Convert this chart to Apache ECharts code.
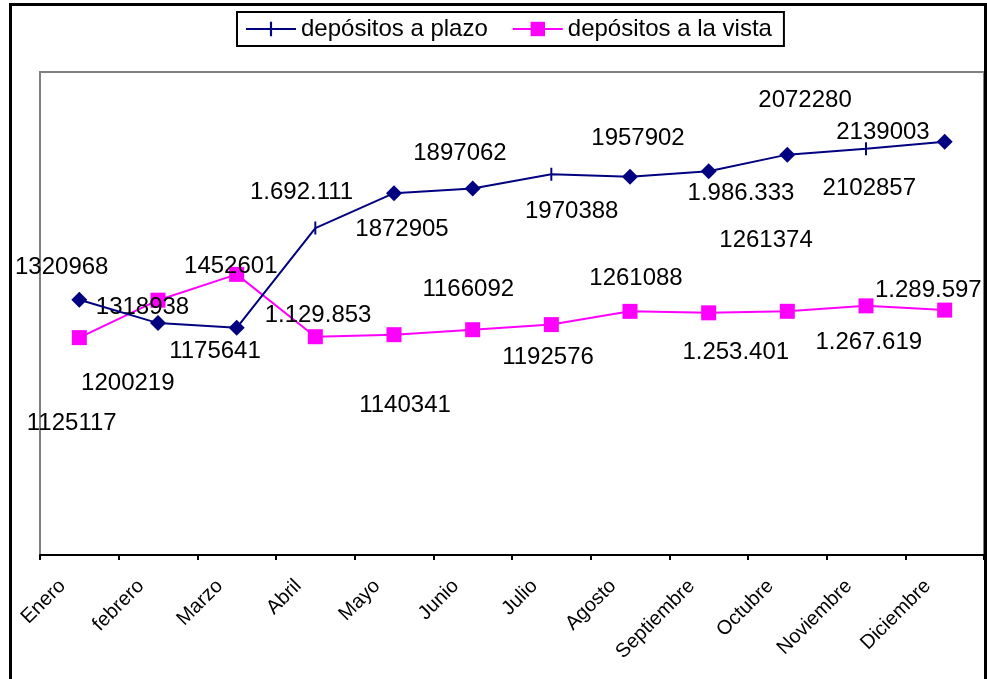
<!DOCTYPE html>
<html>
<head>
<meta charset="utf-8">
<script src="https://cdn.jsdelivr.net/npm/echarts@6/dist/echarts.min.js"></script>
<style>
  html, body { margin: 0; padding: 0; background: #fff; }
  #chart { width: 987px; height: 679px; }
</style>
</head>
<body>
<div id="chart"></div>
<script>
// ---- data ----
const months = ['Enero', 'febrero', 'Marzo', 'Abril', 'Mayo', 'Junio', 'Julio', 'Agosto', 'Septiembre', 'Octubre', 'Noviembre', 'Diciembre'];
const plazo = [1320968, 1200219, 1175641, 1692111, 1872905, 1897062, 1970388, 1957902, 1986333, 2072280, 2102857, 2139003];
const vista = [1125117, 1318938, 1452601, 1129853, 1140341, 1166092, 1192576, 1261088, 1253401, 1261374, 1289597, 1267619];
const plazoLabels = ['1320968', '1200219', '1175641', '1.692.111', '1872905', '1897062', '1970388', '1957902', '1.986.333', '2072280', '2102857', '2139003'];
const vistaLabels = ['1125117', '1318938', '1452601', '1.129.853', '1140341', '1166092', '1192576', '1261088', '1.253.401', '1261374', '1.289.597', '1.267.619'];

// ---- styling (label placement offsets, marker choices) ----
const plazoOffsets = [[-17.6,-32.3],[-30.2,60.2],[-21.7,23.8],[-13.8,-36],[8,36.3],[-12.7,-34.7],[20.4,37],[8,-38.7],[32.3,22.6],[17.7,-54.6],[3.3,39.3],[-61.7,-9.5]];
const vistaOffsets = [[-7.6,85.7],[-15.5,7.5],[-5.9,-8.4],[2.7,-20.9],[11,71.1],[-4.4,-40.5],[-3.3,32.9],[6,-33.3],[27.1,39.7],[-21.3,-71.3],[62.3,-15.8],[-75.9,31.9]];
const barMarkerIdx = [3, 6, 10];
const FONT = 'Liberation Sans, Arial, sans-serif';
// vertical tick marker; invisible corner points keep the bounding box square so it is not stretched
const BAR = 'path://M0,0 L0.01,0 M12,12 L12.01,12 M5.1,0 L6.9,0 L6.9,12 L5.1,12 Z';

const plazoData = plazo.map((v, i) => {
  const item = { value: v, label: { formatter: plazoLabels[i], offset: plazoOffsets[i] } };
  if (barMarkerIdx.indexOf(i) < 0) { item.symbol = 'diamond'; item.symbolSize = 16; }
  return item;
});
const vistaData = vista.map((v, i) => ({ value: v, label: { formatter: vistaLabels[i], offset: vistaOffsets[i] } }));

const chart = echarts.init(document.getElementById('chart'), null, { renderer: 'canvas' });
chart.setOption({
  animation: false,
  backgroundColor: '#fff',
  textStyle: { fontFamily: FONT },
  graphic: [{
    type: 'rect',
    shape: { x: 10.5, y: 4.5, width: 975, height: 700 },
    style: { fill: null, stroke: '#000', lineWidth: 3 },
    z: 100, silent: true
  }],
  legend: {
    left: 237, top: 12,
    padding: [5, 12, 5, 8],
    itemGap: 24,
    itemWidth: 50, itemHeight: 18,
    borderColor: '#000', borderWidth: 2,
    textStyle: { fontSize: 24, color: '#000', fontFamily: FONT },
    data: ['depósitos a plazo', 'depósitos a la vista']
  },
  grid: {
    left: 40, right: 3, top: 72, bottom: 124,
    show: true, borderColor: '#808080', borderWidth: 2, backgroundColor: '#fff'
  },
  xAxis: {
    type: 'category',
    data: months,
    boundaryGap: true,
    axisLine: { lineStyle: { color: '#000', width: 2 } },
    axisTick: { show: true, length: 5, lineStyle: { color: '#000', width: 2 } },
    axisLabel: {
      rotate: 45, fontSize: 20, color: '#000', fontFamily: FONT,
      margin: 11, padding: [0, 24, 0, 0], interval: 0
    },
    splitLine: { show: false }
  },
  yAxis: {
    type: 'value', min: 0, max: 2500000,
    axisLine: { show: false }, axisTick: { show: false },
    axisLabel: { show: false }, splitLine: { show: false }
  },
  series: [
    {
      name: 'depósitos a plazo', type: 'line', data: plazoData,
      symbol: BAR, symbolSize: 13,
      itemStyle: { color: '#000080' },
      lineStyle: { color: '#000080', width: 2 },
      label: { show: true, position: 'inside', fontSize: 24, color: '#000', fontFamily: FONT, align: 'center', verticalAlign: 'middle' },
      z: 3
    },
    {
      name: 'depósitos a la vista', type: 'line', data: vistaData,
      symbol: 'rect', symbolSize: 15,
      itemStyle: { color: '#FF00FF' },
      lineStyle: { color: '#FF00FF', width: 2 },
      label: { show: true, position: 'inside', fontSize: 24, color: '#000', fontFamily: FONT, align: 'center', verticalAlign: 'middle' },
      z: 2
    }
  ]
});
</script>
</body>
</html>
